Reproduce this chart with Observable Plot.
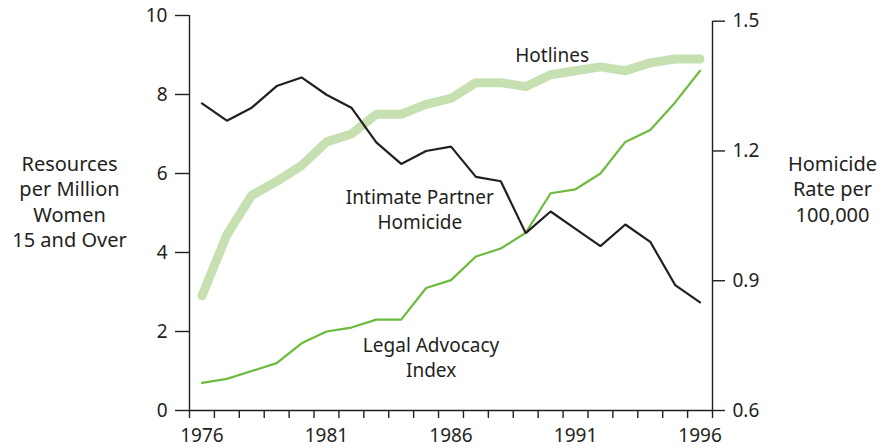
<!DOCTYPE html>
<html>
<head>
<meta charset="utf-8">
<script src="https://cdn.jsdelivr.net/npm/d3@7"></script>
<script src="https://cdn.jsdelivr.net/npm/@observablehq/plot@0.6"></script>
<style>
  html, body { margin: 0; padding: 0; background: #fff; }
  #chart { width: 894px; height: 448px; }
</style>
</head>
<body>
<div id="chart"></div>
<script>
// ---- data ----
const years = [1976,1977,1978,1979,1980,1981,1982,1983,1984,1985,1986,1987,1988,1989,1990,1991,1992,1993,1994,1995,1996];
const hotlines = [2.9,4.45,5.45,5.8,6.2,6.8,7.0,7.5,7.5,7.75,7.9,8.3,8.3,8.2,8.5,8.6,8.7,8.6,8.8,8.9,8.9];
const legalAdvocacy = [0.7,0.8,1.0,1.2,1.7,2.0,2.1,2.3,2.3,3.1,3.3,3.9,4.1,4.5,5.5,5.6,6.0,6.8,7.1,7.8,8.6];
const homicideRate = [1.31,1.27,1.30,1.35,1.37,1.33,1.30,1.22,1.17,1.20,1.21,1.14,1.13,1.01,1.06,1.02,0.98,1.03,0.99,0.89,0.85];
const leftTicks = [0,2,4,6,8,10];
const rightTicks = [0.6,0.9,1.2,1.5];
const xTickYears = [1976,1977,1978,1979,1980,1981,1982,1983,1984,1985,1986,1987,1988,1989,1990,1991,1992,1993,1994,1995,1996,1997];
const xLabels = [1976,1981,1986,1991,1996];
const leftTitle = "Resources\nper Million\nWomen\n15 and Over";
const rightTitle = "Homicide\nRate per\n100,000";

// ---- dual-axis mapping (right axis 0.6–1.5 onto left units) ----
const rMin = 0.6, rMax = 1.5, rTop = 9.856;
const toLeft = v => (v - rMin) / (rMax - rMin) * rTop;
const fromLeft = u => u / rTop * (rMax - rMin) + rMin;

const ink = "#231f20";
const font = "Noto Sans";
const fs = 19;
const fsTitle = 20;

const rows = years.map((yr, i) => ({
  t: yr + 0.5,
  hot: hotlines[i],
  legal: legalAdvocacy[i],
  hom: toLeft(homicideRate[i])
}));

const chart = Plot.plot({
  width: 894,
  height: 448,
  marginLeft: 189,
  marginRight: 182,
  marginTop: 15,
  marginBottom: 38,
  style: { fontFamily: font, fontSize: fs + "px", color: ink, background: "#fff" },
  x: { domain: [1976, 1997], axis: null },
  y: { domain: [0, 10], axis: null },
  marks: [
    // axes lines
    Plot.ruleX([1976], { y1: 0, y2: 10, stroke: ink, strokeWidth: 1.4 }),
    Plot.ruleX([1997], { y1: 0, y2: toLeft(rMax), stroke: ink, strokeWidth: 1.4 }),
    Plot.ruleY([0], { x1: 1976, x2: 1997, stroke: ink, strokeWidth: 1.4 }),
    // x ticks + labels
    Plot.axisX(xTickYears, { anchor: "bottom", tickSize: 8, tickFormat: () => "", stroke: ink, strokeWidth: 1.4, label: null }),
    Plot.text(xLabels, { x: d => d + 0.5, y: 0, dy: 25, text: d => String(d), fontSize: fs, fill: ink }),
    // left y axis
    Plot.axisY(leftTicks, { anchor: "left", tickSize: 14, tickPadding: 8, stroke: ink, strokeWidth: 1.4, fill: ink, fontSize: fs, label: null }),
    // right y axis
    Plot.axisY(rightTicks.map(toLeft), { anchor: "right", tickSize: 12, tickPadding: 8, tickFormat: d => fromLeft(d).toFixed(1), stroke: ink, strokeWidth: 1.4, fill: ink, fontSize: fs, label: null }),
    // axis titles
    Plot.text([leftTitle], { frameAnchor: "left", dx: -120, dy: -12, text: d => d, lineHeight: 1.27, fontSize: fsTitle, fill: ink, textAnchor: "middle" }),
    Plot.text([rightTitle], { frameAnchor: "right", dx: 120, dy: -25, text: d => d, lineHeight: 1.27, fontSize: fsTitle, fill: ink, textAnchor: "middle" }),
    // series
    Plot.line(rows, { x: "t", y: "hot", stroke: "#c7e0b1", strokeWidth: 9, strokeLinecap: "round", strokeLinejoin: "round" }),
    Plot.line(rows, { x: "t", y: "legal", stroke: "#6cbb3c", strokeWidth: 2.2, strokeLinejoin: "round" }),
    Plot.line(rows, { x: "t", y: "hom", stroke: ink, strokeWidth: 2.2, strokeLinejoin: "miter" }),
    // series labels
    Plot.text(["Hotlines"], { x: 1990.56, y: 8.97, text: d => d, fontSize: fs, fill: ink }),
    Plot.text(["Intimate Partner\nHomicide"], { x: 1985.25, y: 5.12, text: d => d, lineHeight: 1.3, fontSize: fs, fill: ink }),
    Plot.text(["Legal Advocacy\nIndex"], { x: 1985.7, y: 1.36, text: d => d, lineHeight: 1.3, fontSize: fs, fill: ink })
  ]
});
document.getElementById("chart").appendChild(chart);
</script>
</body>
</html>
